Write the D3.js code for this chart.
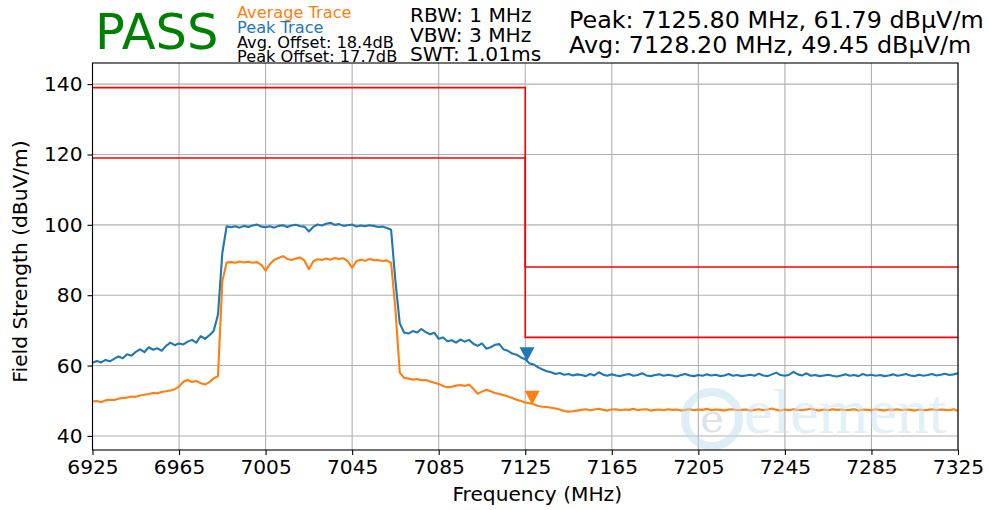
<!DOCTYPE html>
<html>
<head>
<meta charset="utf-8">
<script src="https://cdn.jsdelivr.net/npm/d3@7"></script>
<style>
  body { margin: 0; background: #fff; }
  text { font-family: "DejaVu Sans", sans-serif; }
</style>
</head>
<body>
<div id="sandbox"></div>
<script>
// Sweep points (MHz), one every 2 MHz
const freqMHz = d3.range(6925, 7326, 2);

// Peak trace (dBuV/m)
const peakTrace = [
  60.8, 61.3, 60.9, 61.6, 61.2, 61.9, 62.6, 62.1, 63.2, 62.8,
  63.9, 64.6, 63.8, 65.2, 64.5, 64.9, 64.2, 65.6, 66.5, 65.8,
  66.3, 66.0, 66.8, 67.3, 66.5, 68.4, 67.6, 68.6, 69.8, 74.5,
  92.0, 99.6,
  99.3, 99.6, 99.2, 99.7, 99.4, 99.8, 100.1, 99.5, 99.3, 99.6,
  99.2, 99.7, 99.9, 99.4, 99.8, 100.0, 99.6, 99.5, 98.1, 99.4,
  100.1, 99.8, 100.3, 100.6, 100.0, 100.2, 99.7, 99.9, 100.1, 99.5,
  99.8, 99.6, 99.9, 99.7, 99.4, 99.5, 99.1, 98.6, 84.0, 72.0,
  69.4,
  69.1, 69.8, 69.4, 70.4, 69.5, 68.9, 69.3, 67.6, 68.0, 66.9,
  67.2, 66.5, 67.4, 66.8, 67.3, 66.2, 65.6, 66.3, 64.8, 65.2,
  65.9, 66.1, 64.6, 64.2, 63.4, 63.1, 62.3, 61.8, 60.6, 60.3,
  59.5, 58.9, 58.4, 58.1, 57.6, 57.9, 57.4, 57.6, 57.2, 57.5,
  57.3, 57.0, 57.6, 57.2, 58.1, 57.4, 57.1, 57.5, 57.2, 57.0,
  57.4, 57.6, 57.1, 57.3, 57.8, 57.2, 57.0, 57.3, 57.5, 57.1,
  57.4, 57.2, 56.9, 57.3, 57.6, 57.2, 57.0, 57.3, 57.1, 57.5,
  57.2, 57.4, 57.0, 57.2, 57.6, 57.1, 57.3, 57.0, 57.2, 57.4,
  57.1, 57.7, 57.2, 57.0, 57.5, 58.0, 57.3, 57.1, 57.4, 58.2,
  57.5, 57.2, 57.8, 57.1, 57.3, 57.0, 57.2, 57.4, 57.1, 56.9,
  57.2, 57.5, 57.1, 57.3, 57.0, 57.6, 57.2, 57.4, 57.1, 57.3,
  57.0, 57.2, 57.5, 57.1, 57.3, 57.6, 57.2, 57.0, 57.4, 57.1,
  57.3, 57.6, 57.2, 57.4, 57.7, 57.3, 57.5, 57.8
];

// Average trace (dBuV/m)
const avgTrace = [
  49.8, 49.9, 49.6, 50.1, 50.3, 50.2, 50.6, 50.8, 50.9, 51.2,
  51.1, 51.5, 51.7, 51.9, 52.2, 52.1, 52.5, 52.7, 52.9, 53.3,
  54.0, 55.4, 55.9, 55.3, 55.6, 55.0, 54.6, 55.3, 56.4, 57.0,
  84.0, 89.3,
  89.4, 89.2, 89.6, 89.3, 89.5, 89.2, 89.4, 88.6, 87.0, 88.9,
  90.1, 90.6, 91.1, 90.3, 90.0, 90.4, 90.7, 89.8, 87.4, 89.6,
  90.2, 90.0, 90.4, 90.1, 90.6, 90.3, 90.5, 89.6, 87.8, 89.7,
  90.1, 89.8, 90.3, 89.9, 90.0, 89.7, 89.9, 89.2, 76.0, 58.0,
  56.5,
  56.3, 56.0, 56.2, 55.8, 55.9, 55.5, 55.1, 54.8, 54.2, 53.8,
  54.0, 54.3, 54.5, 54.2, 54.6, 53.4, 52.0, 52.6, 53.1, 52.7,
  52.2, 51.9, 51.6, 51.2, 50.8, 50.3, 49.9, 49.5, 49.3, 49.0,
  48.5, 48.3, 48.2, 48.0, 47.8, 47.5, 47.1, 46.9, 47.0, 47.2,
  47.4, 47.6, 47.3, 47.5, 47.7, 47.4, 47.2, 47.5, 47.6, 47.3,
  47.5, 47.4, 47.7, 47.3, 47.5, 47.6, 47.2, 47.4, 47.5, 47.3,
  47.6, 47.4, 47.5, 47.2, 47.4, 47.6, 47.3, 47.5, 47.4, 47.7,
  47.3, 47.5, 47.4, 47.2, 47.5, 47.6, 47.3, 47.4, 47.5, 47.2,
  47.4, 47.6, 47.3, 47.5, 47.8, 47.4, 47.2, 47.5, 47.3, 47.6,
  47.4, 47.3, 47.5, 47.7, 47.4, 47.2, 47.5, 47.3, 47.6, 47.4,
  47.5, 47.3, 47.4, 47.6, 47.2, 47.5, 47.4, 47.3, 47.6, 47.4,
  47.2, 47.5, 47.4, 47.6, 47.3, 47.5, 47.4, 47.2, 47.5, 47.3,
  47.4, 47.6, 47.3, 47.5, 47.4, 47.3, 47.6, 47.1
];

// Limit lines (step shape)
const limitFreq = [6925, 7125, 7125, 7325];
const peakLimit = [139, 139, 88, 88];
const avgLimit = [119, 119, 68, 68];

// Markers
const peakMarker = [7125.8, 61.79];
const avgMarker = [7128.2, 49.45];

// Ticks
const xTicks = [6925, 6965, 7005, 7045, 7085, 7125, 7165, 7205, 7245, 7285, 7325];
const yTicks = [40, 60, 80, 100, 120, 140];

const blue = "#1f77b4";
const orange = "#ff7f0e";

const width = 989, height = 510;
const margin = { top: 63, right: 31, bottom: 60, left: 92.5 };

const svg = d3.select("#sandbox")
    .append("svg")
    .attr("width", width)
    .attr("height", height);

// Scales
const x = d3.scaleLinear()
    .domain([6925, 7325])
    .range([margin.left, width - margin.right]);

const y = d3.scaleLinear()
    .domain([36, 146])
    .range([height - margin.bottom, margin.top]);

// Grid
svg.append("g")
    .selectAll("line.vg")
    .data(xTicks)
    .join("line")
    .attr("x1", d => x(d)).attr("x2", d => x(d))
    .attr("y1", y.range()[0]).attr("y2", y.range()[1])
    .attr("stroke", "#b0b0b0").attr("stroke-width", 1.1);

svg.append("g")
    .selectAll("line.hg")
    .data(yTicks)
    .join("line")
    .attr("x1", x.range()[0]).attr("x2", x.range()[1])
    .attr("y1", d => y(d)).attr("y2", d => y(d))
    .attr("stroke", "#b0b0b0").attr("stroke-width", 1.1);

// Limit lines
const limLine = d3.line()
    .x((d, i) => x(limitFreq[i]))
    .y(d => y(d));

[peakLimit, avgLimit].forEach(lim => {
    svg.append("path")
        .attr("d", limLine(lim))
        .attr("fill", "none")
        .attr("stroke", "#ff0000")
        .attr("stroke-width", 1.6);
});

// Traces
const traceLine = d3.line()
    .x((d, i) => x(freqMHz[i]))
    .y(d => y(d));

svg.append("path")
    .attr("d", traceLine(avgTrace))
    .attr("fill", "none")
    .attr("stroke", orange)
    .attr("stroke-width", 2.1)
    .attr("stroke-linejoin", "round");

svg.append("path")
    .attr("d", traceLine(peakTrace))
    .attr("fill", "none")
    .attr("stroke", blue)
    .attr("stroke-width", 2.1)
    .attr("stroke-linejoin", "round");

// Markers (downward triangles)
const tri = (f, v) => {
    const cx = x(f), cy = y(v);
    return `M${cx - 7.5},${cy - 12} L${cx + 7.5},${cy - 12} L${cx},${cy + 2} Z`;
};
svg.append("path").attr("d", tri(...peakMarker)).attr("fill", blue);
svg.append("path").attr("d", tri(...avgMarker)).attr("fill", orange);

// Watermark
const wm = svg.append("g").attr("opacity", 0.5);
wm.append("circle")
    .attr("cx", 712).attr("cy", 419).attr("r", 27)
    .attr("fill", "none").attr("stroke", "#bfdfee").attr("stroke-width", 8);
wm.append("text")
    .attr("x", 712).attr("y", 432)
    .attr("text-anchor", "middle")
    .style("font-family", "DejaVu Serif, serif")
    .style("font-size", "40px")
    .attr("fill", "#b9c7d6")
    .text("e");
wm.append("text")
    .attr("x", 744).attr("y", 433)
    .style("font-family", "Liberation Serif, serif")
    .style("font-size", "64px")
    .attr("fill", "#c6e3f1")
    .text("element");

// Axes
const xAxis = svg.append("g")
    .attr("transform", `translate(0,${height - margin.bottom})`)
    .call(d3.axisBottom(x).tickValues(xTicks).tickFormat(d3.format("d")).tickSize(5).tickPadding(5));

const yAxis = svg.append("g")
    .attr("transform", `translate(${margin.left},0)`)
    .call(d3.axisLeft(y).tickValues(yTicks).tickSize(5).tickPadding(5));

[xAxis, yAxis].forEach(g => {
    g.select(".domain").remove();
    g.selectAll("line").attr("stroke", "#000").attr("stroke-width", 1.1);
    g.selectAll("text")
        .style("font-family", "DejaVu Sans, sans-serif")
        .style("font-size", "20.2px")
        .attr("fill", "#000");
});

// Frame
svg.append("rect")
    .attr("x", x.range()[0]).attr("y", y.range()[1])
    .attr("width", x.range()[1] - x.range()[0])
    .attr("height", y.range()[0] - y.range()[1])
    .attr("fill", "none").attr("stroke", "#000").attr("stroke-width", 1.1);

// Axis labels
svg.append("text")
    .attr("x", (x.range()[0] + x.range()[1]) / 2 + 12)
    .attr("y", 501)
    .attr("text-anchor", "middle")
    .style("font-size", "20.2px")
    .text("Frequency (MHz)");

svg.append("text")
    .attr("transform", `translate(27,${(y.range()[0] + y.range()[1]) / 2 + 5}) rotate(-90)`)
    .attr("text-anchor", "middle")
    .style("font-size", "20.2px")
    .text("Field Strength (dBuV/m)");

// Header
svg.append("text")
    .attr("x", 95).attr("y", 49)
    .style("font-size", "49.5px")
    .attr("fill", "#008000")
    .text("PASS");

const legend = [
    ["Average Trace", orange, 18],
    ["Peak Trace", blue, 33],
    ["Avg. Offset: 18.4dB", "#000", 47.5],
    ["Peak Offset: 17.7dB", "#000", 61.5]
];
svg.append("g").selectAll("text")
    .data(legend)
    .join("text")
    .attr("x", 237)
    .attr("y", d => d[2])
    .attr("fill", d => d[1])
    .style("font-size", "16.2px")
    .text(d => d[0]);

const settings = ["RBW: 1 MHz", "VBW: 3 MHz", "SWT: 1.01ms"];
svg.append("g").selectAll("text")
    .data(settings)
    .join("text")
    .attr("x", 410)
    .attr("y", (d, i) => 22 + i * 19.5)
    .style("font-size", "20.2px")
    .text(d => d);

const readouts = ["Peak: 7125.80 MHz, 61.79 dBμV/m", "Avg: 7128.20 MHz, 49.45 dBμV/m"];
svg.append("g").selectAll("text")
    .data(readouts)
    .join("text")
    .attr("x", 569)
    .attr("y", (d, i) => 28 + i * 25)
    .style("font-size", "23.85px")
    .text(d => d);
</script>
</body>
</html>
